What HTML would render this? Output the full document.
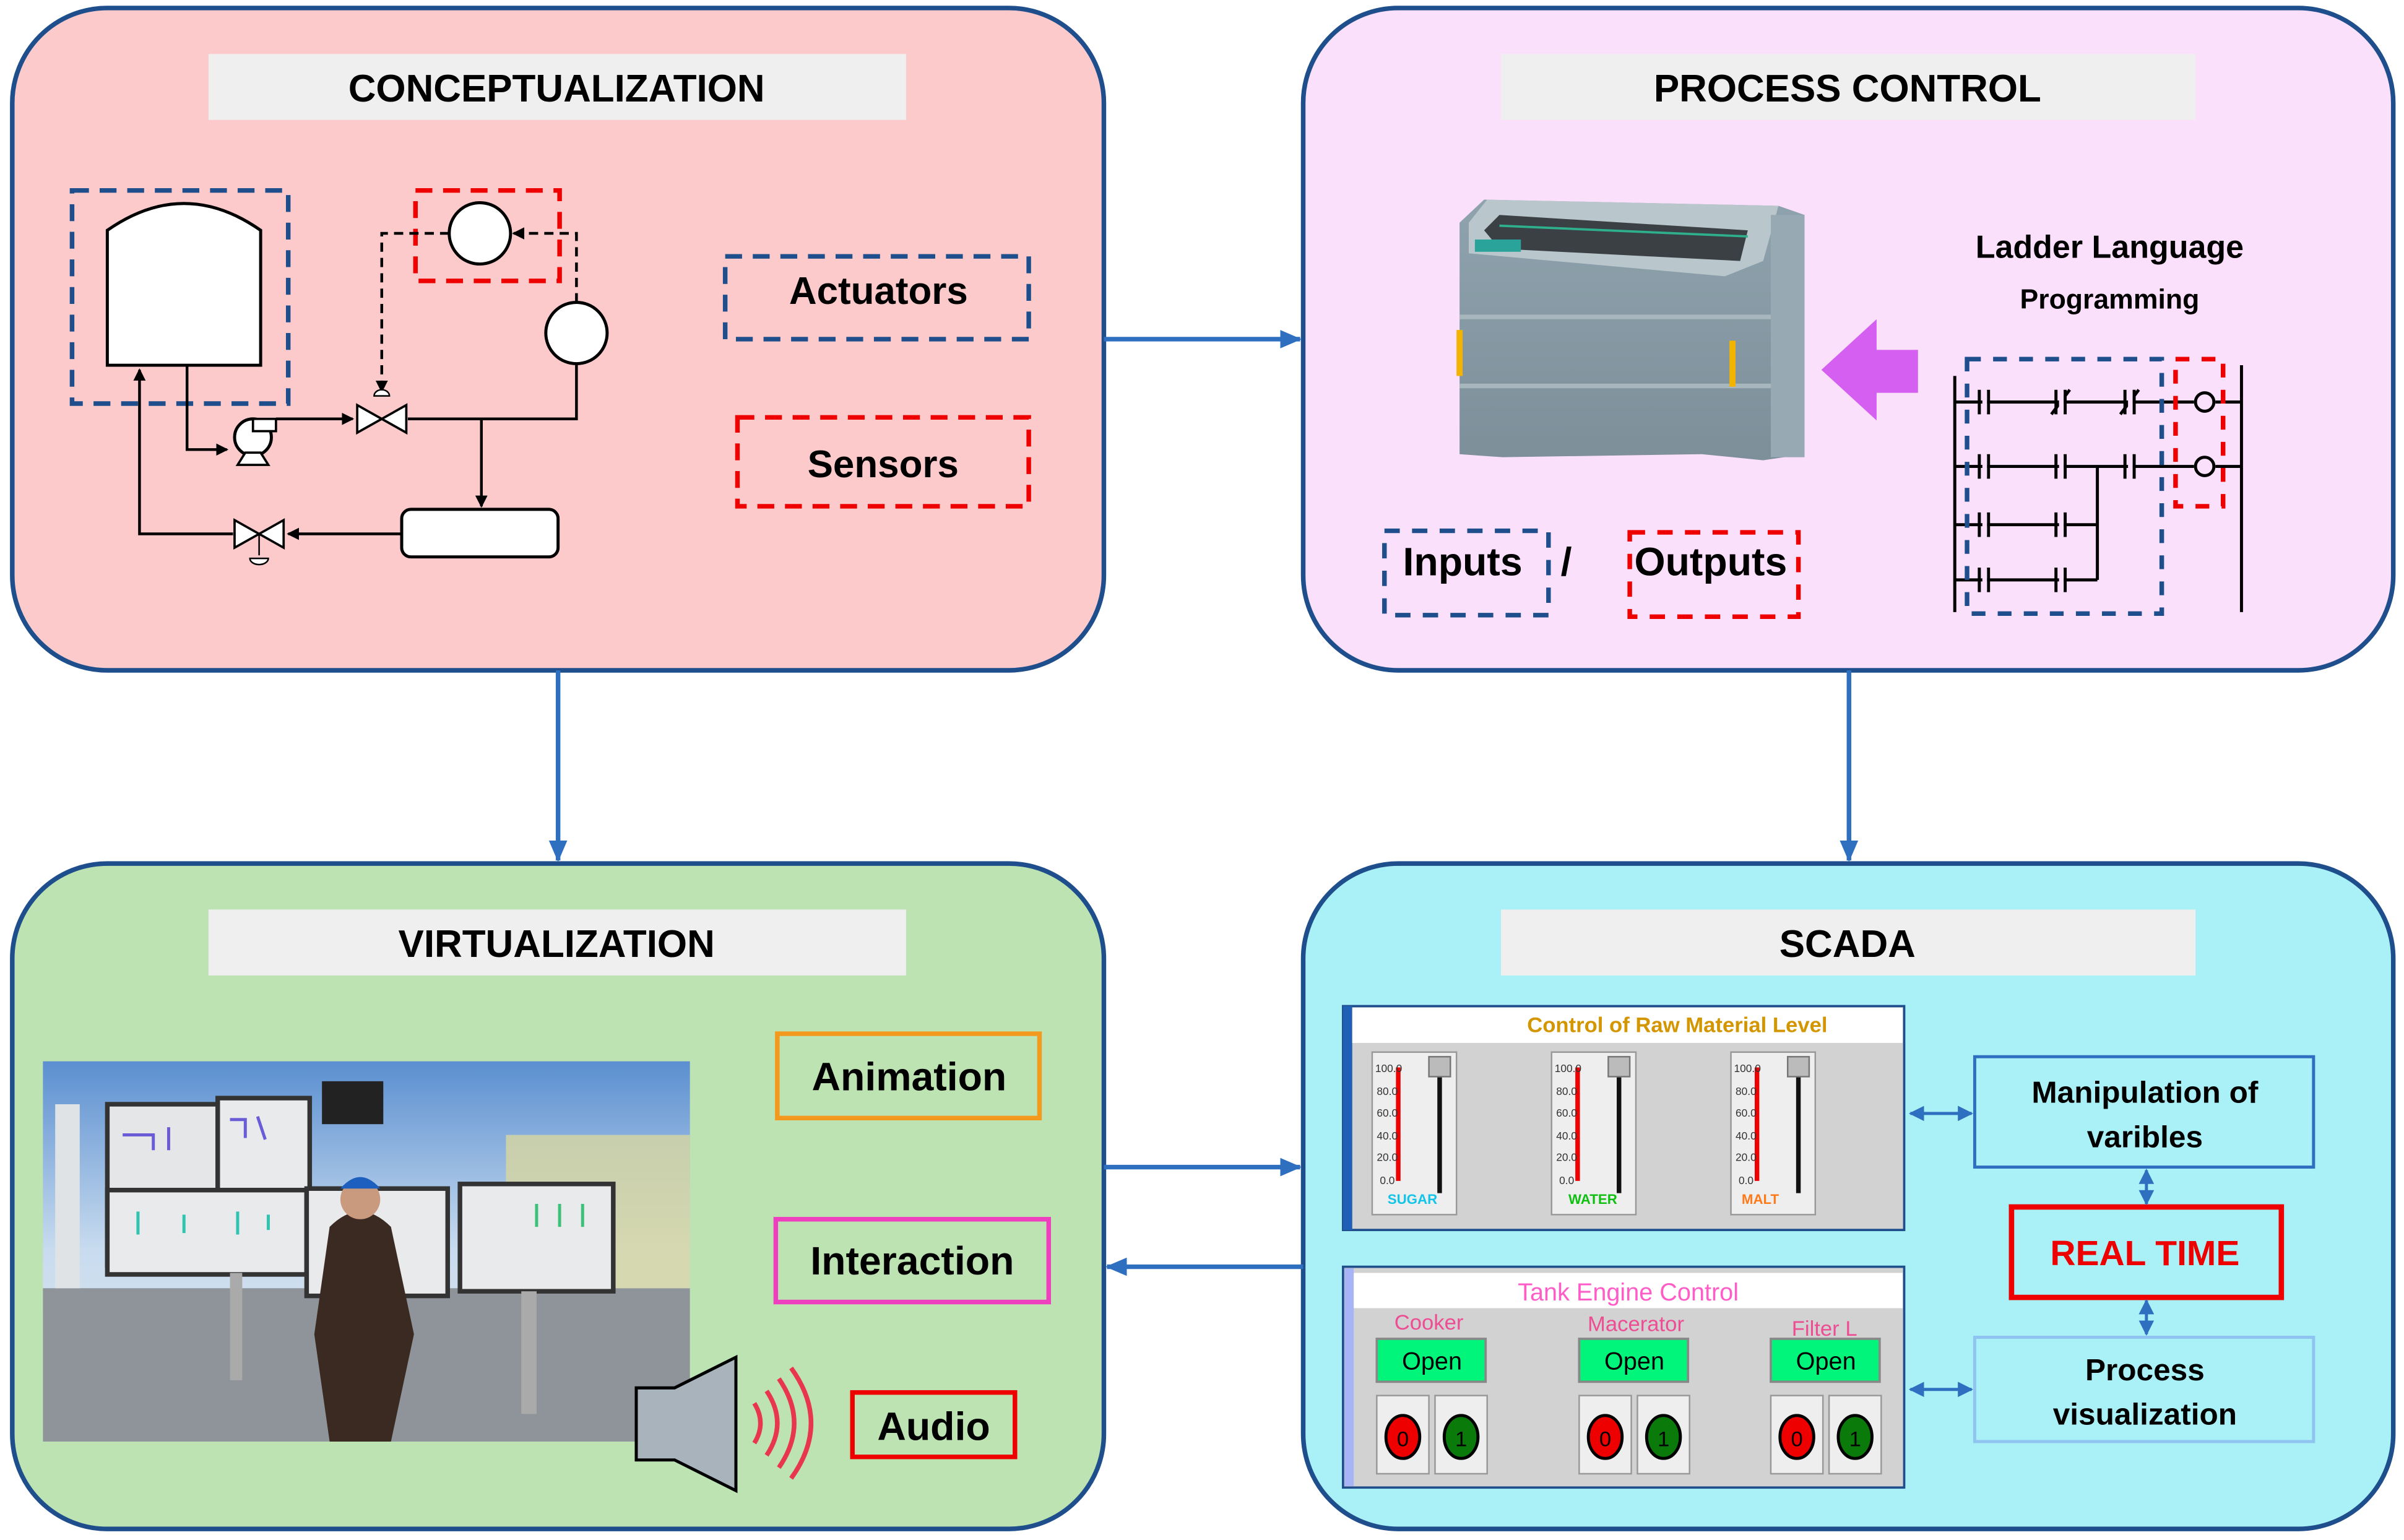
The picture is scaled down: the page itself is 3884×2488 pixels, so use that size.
<!DOCTYPE html>
<html><head><meta charset="utf-8"><style>
html,body{margin:0;padding:0;background:#fff;width:3884px;height:2488px;overflow:hidden}
svg{display:block}
text{font-family:"Liberation Sans",sans-serif}
</style></head><body>
<svg width="3884" height="2488" viewBox="0 0 1568 1004" xmlns="http://www.w3.org/2000/svg">
<defs>
<marker id="ab" markerWidth="8" markerHeight="8" refX="7" refY="4" orient="auto" markerUnits="userSpaceOnUse"><path d="M0,0 L8,4 L0,8 z" fill="#000"/></marker>
<marker id="bb" markerWidth="14" markerHeight="12" refX="13" refY="6" orient="auto" markerUnits="userSpaceOnUse"><path d="M0,0 L14,6 L0,12 z" fill="#2e6fc0"/></marker>
<marker id="sb" markerWidth="10" markerHeight="10" refX="9" refY="5" orient="auto-start-reverse" markerUnits="userSpaceOnUse"><path d="M0,0 L10,5 L0,10 z" fill="#2e6fc0"/></marker>
<linearGradient id="sky" x1="0" y1="0" x2="0" y2="1"><stop offset="0" stop-color="#5b8fd0"/><stop offset="0.5" stop-color="#c9dcef"/><stop offset="1" stop-color="#dfe6ec"/></linearGradient>
<linearGradient id="plc" x1="0" y1="0" x2="0" y2="1"><stop offset="0" stop-color="#8fa3ae"/><stop offset="1" stop-color="#7d8f99"/></linearGradient>
</defs>

<rect x="8" y="5" width="712" height="432" rx="62" fill="#fccaca" stroke="#1f4e8c" stroke-width="3"/>
<rect x="850" y="5" width="711" height="432" rx="62" fill="#fbe0fb" stroke="#1f4e8c" stroke-width="3"/>
<rect x="8" y="563" width="712" height="434" rx="62" fill="#bde3b3" stroke="#1f4e8c" stroke-width="3"/>
<rect x="850" y="563" width="711" height="434" rx="62" fill="#a9f1f7" stroke="#1f4e8c" stroke-width="3"/>

<rect x="136" y="35" width="455" height="43" fill="#efefef"/>
<rect x="979" y="35" width="453" height="43" fill="#efefef"/>
<rect x="136" y="593" width="455" height="43" fill="#efefef"/>
<rect x="979" y="593" width="453" height="43" fill="#efefef"/>
<g font-size="25" font-weight="bold" text-anchor="middle" fill="#000">
<text x="363" y="66">CONCEPTUALIZATION</text>
<text x="1205" y="66">PROCESS CONTROL</text>
<text x="363" y="624">VIRTUALIZATION</text>
<text x="1205" y="624">SCADA</text>
</g>

<g stroke="#2e6fc0" stroke-width="3" fill="none">
<line x1="720" y1="221" x2="848" y2="221" marker-end="url(#bb)"/>
<line x1="364" y1="437" x2="364" y2="561" marker-end="url(#bb)"/>
<line x1="1206" y1="437" x2="1206" y2="561" marker-end="url(#bb)"/>
<line x1="720" y1="761" x2="848" y2="761" marker-end="url(#bb)"/>
<line x1="850" y1="826" x2="722" y2="826" marker-end="url(#bb)"/>
</g>

<rect x="47" y="124" width="141" height="139" fill="none" stroke="#1f4e8c" stroke-width="3" stroke-dasharray="11,7"/>
<path d="M70,238 L70,150 Q120,115 170,150 L170,238 Z" fill="#fff" stroke="#000" stroke-width="2"/>
<rect x="271" y="124" width="94" height="59" fill="none" stroke="#e00" stroke-width="3" stroke-dasharray="11,7"/>
<circle cx="313" cy="152" r="20" fill="#fff" stroke="#000" stroke-width="2"/>
<circle cx="376" cy="217" r="20" fill="#fff" stroke="#000" stroke-width="2"/>
<rect x="262" y="332" width="102" height="31" rx="6" fill="#fff" stroke="#000" stroke-width="2"/>
<g stroke="#000" stroke-width="1.8" fill="none">
<path d="M122,238 L122,293 L148,293" marker-end="url(#ab)"/>
<path d="M180,273 L230,273" marker-end="url(#ab)"/>
<path d="M266,273 L376,273 L376,237"/>
<path d="M314,273 L314,330" marker-end="url(#ab)"/>
<path d="M262,348 L188,348" marker-end="url(#ab)"/>
<path d="M152,348 L91,348 L91,241" marker-end="url(#ab)"/>
<path d="M376,197 L376,152 L335,152" stroke-dasharray="6,4" marker-end="url(#ab)"/>
<path d="M293,152 L249,152 L249,255" stroke-dasharray="6,4" marker-end="url(#ab)"/>
</g>
<circle cx="165" cy="285" r="12" fill="#fff" stroke="#000" stroke-width="2"/>
<path d="M155,303 L175,303 L170,295 L160,295 Z" fill="#fff" stroke="#000" stroke-width="1.5"/>
<rect x="165" y="273" width="15" height="8" fill="#fff" stroke="#000" stroke-width="1.5"/>
<path d="M233,264 L265,282 L265,264 L233,282 Z" fill="#fff" stroke="#000" stroke-width="1.5"/>
<path d="M244,258 a5,4 0 0 1 10,0 z" fill="#fff" stroke="#000"/>
<path d="M153,339 L185,357 L185,339 L153,357 Z" fill="#fff" stroke="#000" stroke-width="1.5"/>
<line x1="169" y1="348" x2="169" y2="362" stroke="#000"/>
<path d="M163,364 a6,4 0 0 0 12,0 z" fill="#fff" stroke="#000"/>

<rect x="473" y="167" width="198" height="54" fill="none" stroke="#1f4e8c" stroke-width="3" stroke-dasharray="11,7"/>
<rect x="481" y="272" width="190" height="58" fill="none" stroke="#e00" stroke-width="3" stroke-dasharray="11,7"/>
<g font-size="25" font-weight="bold" text-anchor="middle">
<text x="573" y="198">Actuators</text>
<text x="576" y="311">Sensors</text>
</g>

<!-- PLC -->
<path d="M952,145 L968,130 L1160,134 L1177,140 L1177,296 L1150,300 L1110,296 L980,298 L952,296 Z" fill="url(#plc)"/>
<path d="M958,145 L970,130 L1160,134 L1150,170 L1125,180 L958,165 Z" fill="#b9c6cc"/>
<path d="M968,150 L978,140 L1140,150 L1135,170 L978,162 Z" fill="#3a4044"/>
<line x1="978" y1="147" x2="1140" y2="154" stroke="#2fb08d" stroke-width="1.5"/>
<rect x="962" y="156" width="30" height="8" fill="#2aa39a"/>
<rect x="952" y="205" width="204" height="3" fill="#a8b6be"/>
<rect x="952" y="250" width="204" height="3" fill="#a8b6be"/>
<rect x="950" y="215" width="4" height="30" fill="#f2b400"/>
<rect x="1128" y="222" width="4" height="30" fill="#f2b400"/>
<rect x="1155" y="140" width="22" height="158" fill="#97a9b3"/>
<path d="M1188,241 L1224,208 L1224,228 L1251,228 L1251,256 L1224,256 L1224,274 Z" fill="#d45ff0"/>
<text x="1376" y="168" font-size="21" font-weight="bold" text-anchor="middle">Ladder Language</text>
<text x="1376" y="201" font-size="18" font-weight="bold" text-anchor="middle">Programming</text>
<g stroke="#000" stroke-width="2" fill="none">
<line x1="1275" y1="245" x2="1275" y2="399"/>
<line x1="1462" y1="238" x2="1462" y2="399"/>
<line x1="1275" y1="262" x2="1431" y2="262"/><line x1="1445" y1="262" x2="1462" y2="262"/>
<line x1="1275" y1="304" x2="1431" y2="304"/><line x1="1445" y1="304" x2="1462" y2="304"/>
<line x1="1275" y1="342" x2="1368" y2="342"/>
<line x1="1275" y1="378" x2="1368" y2="378"/>
<line x1="1368" y1="304" x2="1368" y2="378"/>
<circle cx="1438" cy="262" r="6" fill="#fbe0fb"/>
<circle cx="1438" cy="304" r="6" fill="#fbe0fb"/>
</g>
<g stroke="#000" stroke-width="2">
<path d="M1291,254v16M1297,254v16M1341,254v16M1347,254v16M1386,254v16M1392,254v16M1338,270l12,-16M1383,270l12,-16"/>
<path d="M1291,296v16M1297,296v16M1341,296v16M1347,296v16M1386,296v16M1392,296v16"/>
<path d="M1291,334v16M1297,334v16M1341,334v16M1347,334v16"/>
<path d="M1291,370v16M1297,370v16M1341,370v16M1347,370v16"/>
</g>
<g fill="#fbe0fb"><rect x="1293" y="255" width="3" height="14"/><rect x="1343" y="255" width="3" height="14"/><rect x="1388" y="255" width="3" height="14"/><rect x="1293" y="297" width="3" height="14"/><rect x="1343" y="297" width="3" height="14"/><rect x="1388" y="297" width="3" height="14"/><rect x="1293" y="335" width="3" height="14"/><rect x="1343" y="335" width="3" height="14"/><rect x="1293" y="371" width="3" height="14"/><rect x="1343" y="371" width="3" height="14"/></g>
<rect x="1283" y="234" width="127" height="166" fill="none" stroke="#1f4e8c" stroke-width="3" stroke-dasharray="9,8"/>
<rect x="1419" y="234" width="31" height="96" fill="none" stroke="#e00" stroke-width="3" stroke-dasharray="9,8"/>
<rect x="903" y="346" width="107" height="55" fill="none" stroke="#1f4e8c" stroke-width="3" stroke-dasharray="10,8"/>
<rect x="1063" y="347" width="110" height="55" fill="none" stroke="#e00" stroke-width="3" stroke-dasharray="10,8"/>
<g font-size="26" font-weight="bold"><text x="915" y="375">Inputs</text><text x="1066" y="375">Outputs</text><text x="1018" y="375">/</text></g>

<!-- VIRTUALIZATION scene -->
<rect x="28" y="692" width="422" height="248" fill="url(#sky)"/>
<rect x="28" y="840" width="422" height="100" fill="#8e9499"/>
<rect x="36" y="720" width="16" height="120" fill="#dfe3e6"/>
<rect x="330" y="740" width="120" height="100" fill="#d8d7a0" opacity="0.8"/>
<rect x="70" y="720" width="130" height="105" fill="#e4e6e8" stroke="#333" stroke-width="3"/>
<rect x="142" y="716" width="60" height="60" fill="#e8eaec" stroke="#333" stroke-width="3"/>
<rect x="70" y="776" width="130" height="55" fill="#e8eaec" stroke="#333" stroke-width="3"/>
<rect x="200" y="775" width="92" height="70" fill="#e8eaec" stroke="#333" stroke-width="3"/>
<rect x="300" y="772" width="100" height="70" fill="#e8eaec" stroke="#333" stroke-width="3"/>
<g stroke-width="2" fill="none"><path d="M80,740 l20,0 l0,10 M110,735 l0,15 M150,730 l10,0 l0,12 M168,728 l5,15" stroke="#6a5cd6"/><path d="M90,790 l0,15 M120,792 l0,12 M155,790 l0,15 M175,792 l0,10" stroke="#2ec4b0"/><path d="M350,785 l0,15 M365,785 l0,15 M380,785 l0,15" stroke="#3cc07a"/></g>
<rect x="210" y="705" width="40" height="28" fill="#222"/>
<rect x="150" y="830" width="8" height="70" fill="#aaa"/>
<rect x="340" y="842" width="10" height="80" fill="#aaa"/>
<path d="M215,800 Q235,780 255,800 L270,870 L255,940 L215,940 L205,870 Z" fill="#3b2a22"/>
<circle cx="235" cy="782" r="13" fill="#c99a7e"/>
<path d="M222,775 Q235,760 248,775 Z" fill="#1c5fbf"/>
<path d="M415,905 L440,905 L480,885 L480,972 L440,952 L415,952 Z" fill="#a8b3bc" stroke="#000" stroke-width="2"/>
<g fill="none" stroke="#e8364d" stroke-width="3"><path d="M492,915 q8,13 0,26"/><path d="M500,907 q14,21 0,42"/><path d="M508,899 q20,29 0,58"/><path d="M516,892 q26,36 0,72"/></g>
<rect x="507" y="674" width="171" height="55" fill="none" stroke="#f39a1e" stroke-width="3"/>
<rect x="506" y="795" width="178" height="54" fill="none" stroke="#ee3fbf" stroke-width="3"/>
<rect x="556" y="908" width="106" height="42" fill="none" stroke="#e00" stroke-width="3"/>
<g font-size="26" font-weight="bold" text-anchor="middle">
<text x="593" y="711">Animation</text><text x="595" y="831">Interaction</text><text x="609" y="939">Audio</text>
</g>

<!-- SCADA panel 1 -->
<rect x="876" y="656" width="366" height="146" fill="#d2d2d2" stroke="#1f4e8c" stroke-width="1.5"/>
<rect x="876" y="656" width="6" height="146" fill="#1f5fb5"/>
<rect x="882" y="657" width="359" height="23" fill="#fff"/>
<text x="1094" y="673" font-size="14" font-weight="bold" fill="#d39600" text-anchor="middle">Control of Raw Material Level</text>
<g id="g1">
<rect x="895" y="686" width="55" height="106" fill="#eee" stroke="#999"/>
<line x1="912" y1="696" x2="912" y2="770" stroke="#e00" stroke-width="3"/>
<line x1="939" y1="694" x2="939" y2="778" stroke="#111" stroke-width="3"/>
<rect x="932" y="689" width="14" height="13" fill="#bbb" stroke="#777"/>
<g font-size="7" fill="#333"><text x="897" y="699">100.0</text><text x="898" y="714">80.0</text><text x="898" y="728">60.0</text><text x="898" y="743">40.0</text><text x="898" y="757">20.0</text><text x="900" y="772">0.0</text></g>
</g>
<use href="#g1" x="117"/><use href="#g1" x="234"/>
<g font-size="9" font-weight="bold"><text x="905" y="785" fill="#11c4e8">SUGAR</text><text x="1023" y="785" fill="#10c010">WATER</text><text x="1136" y="785" fill="#ff7a1a">MALT</text></g>

<!-- SCADA panel 2 -->
<rect x="876" y="826" width="366" height="144" fill="#d2d2d2" stroke="#1f4e8c" stroke-width="1.5"/>
<rect x="877" y="827" width="6" height="142" fill="#a7b4f5"/>
<rect x="883" y="830" width="358" height="23" fill="#fff"/>
<text x="1062" y="848" font-size="16" fill="#ff5cc8" text-anchor="middle">Tank Engine Control</text>
<g font-size="14" fill="#ec4d93" text-anchor="middle"><text x="932" y="867">Cooker</text><text x="1067" y="868">Macerator</text><text x="1190" y="871">Filter L</text></g>
<g id="g2">
<rect x="898" y="873" width="71" height="28" fill="#00f57a" stroke="#888" stroke-width="1.5"/>
<text x="934" y="893" font-size="16" text-anchor="middle">Open</text>
<rect x="898" y="910" width="34" height="51" fill="#eee" stroke="#999"/>
<rect x="936" y="910" width="34" height="51" fill="#eee" stroke="#999"/>
<ellipse cx="915" cy="937" rx="11" ry="14" fill="#e00" stroke="#000" stroke-width="2"/>
<ellipse cx="953" cy="937" rx="11" ry="14" fill="#0a7a0a" stroke="#000" stroke-width="2"/>
<text x="915" y="943" font-size="14" text-anchor="middle">0</text>
<text x="953" y="943" font-size="14" text-anchor="middle">1</text>
</g>
<use href="#g2" x="132"/><use href="#g2" x="257"/>

<rect x="1288" y="689" width="221" height="72" fill="none" stroke="#2e6fc0" stroke-width="2"/>
<rect x="1312" y="787" width="176" height="59" fill="none" stroke="#e00" stroke-width="3.5"/>
<rect x="1288" y="872" width="221" height="68" fill="none" stroke="#8fc3f0" stroke-width="2"/>
<g font-size="20" font-weight="bold" text-anchor="middle">
<text x="1399" y="719">Manipulation of</text><text x="1399" y="748">varibles</text>
<text x="1399" y="900">Process</text><text x="1399" y="929">visualization</text>
</g>
<text x="1399" y="825" font-size="23" font-weight="bold" fill="#e00" text-anchor="middle">REAL TIME</text>
<g stroke="#2e6fc0" stroke-width="2" fill="none">
<line x1="1246" y1="726" x2="1286" y2="726" marker-end="url(#sb)" marker-start="url(#sb)"/>
<line x1="1246" y1="906" x2="1286" y2="906" marker-end="url(#sb)" marker-start="url(#sb)"/>
<line x1="1400" y1="763" x2="1400" y2="785" marker-end="url(#sb)" marker-start="url(#sb)"/>
<line x1="1400" y1="848" x2="1400" y2="870" marker-end="url(#sb)" marker-start="url(#sb)"/>
</g>
</svg>
</body></html>
